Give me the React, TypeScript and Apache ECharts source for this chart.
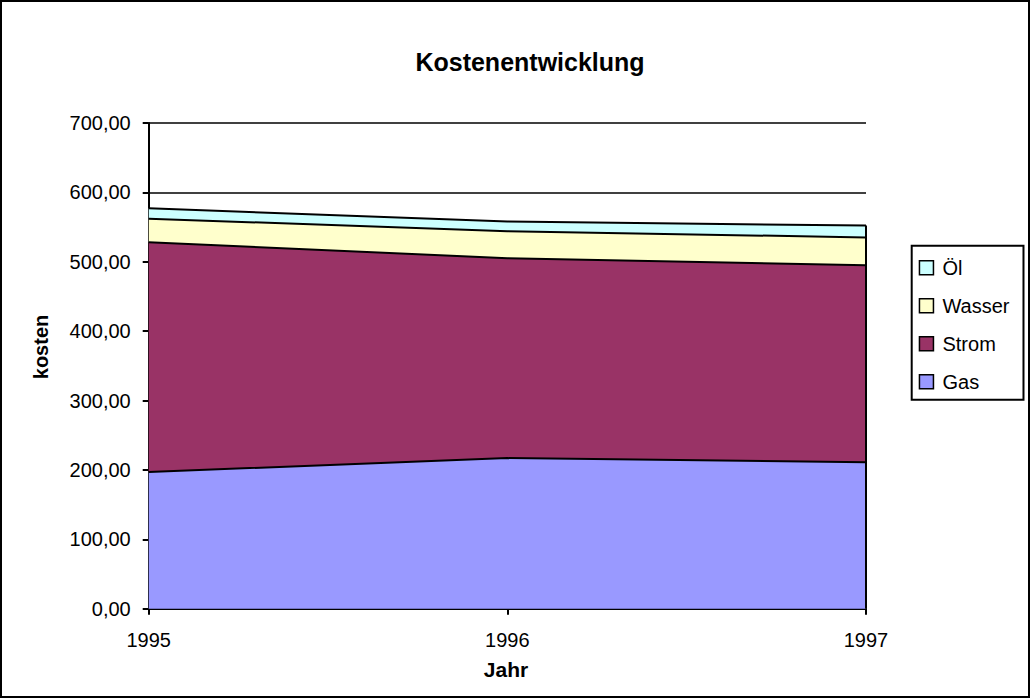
import React, { useEffect, useRef } from "react";
import * as echarts from "echarts";

const years = ["1995", "1996", "1997"];
const gas = [197, 217, 211];
const strom = [331, 288, 284];
const wasser = [34, 39, 40];
const oel = [15, 14, 17];
const legendOrder = ["Öl", "Wasser", "Strom", "Gas"];
const yTicks = { min: 0, max: 700, interval: 100 };

const FONT = "'Liberation Sans', Arial, sans-serif";

export default function App() {
  const ref = useRef<HTMLDivElement>(null);
  useEffect(() => {
    if (!ref.current) return;
    const chart = echarts.init(ref.current, null, { renderer: "svg" });
    const lastIdx = years.length - 1;
    const lastTotal = gas[lastIdx] + strom[lastIdx] + wasser[lastIdx] + oel[lastIdx];
    const mk = (name: string, data: number[], color: string, extra: any = {}) => ({
      name,
      type: "line",
      stack: "total",
      data,
      symbol: "none",
      lineStyle: { color: "#000", width: 2 },
      itemStyle: { color },
      areaStyle: { color, opacity: 1 },
      emphasis: { disabled: true },
      ...extra,
    });
    chart.setOption({
      animation: false,
      textStyle: { fontFamily: FONT },
      title: {
        text: "Kostenentwicklung",
        left: 525,
        top: 44,
        textAlign: "center",
        textStyle: { fontFamily: FONT, fontSize: 25, fontWeight: "bold", color: "#000" },
      },
      grid: { left: 148.7, right: 165, top: 122.9, bottom: 90.3 },
      legend: {
        orient: "vertical",
        left: 911.7,
        top: 245.7,
        data: legendOrder,
        itemWidth: 14,
        itemHeight: 14,
        itemGap: 18,
        icon: "rect",
        padding: [12, 14, 8, 7],
        borderColor: "#000",
        borderWidth: 2,
        itemStyle: { borderColor: "#000", borderWidth: 1.5 },
        textStyle: { fontFamily: FONT, fontSize: 20, color: "#000", lineHeight: 20, padding: [0, 0, 0, 4] },
      },
      xAxis: {
        type: "category",
        data: years,
        boundaryGap: false,
        axisLine: { lineStyle: { color: "#000", width: 2 } },
        axisTick: { show: true, length: 6, alignWithLabel: true, lineStyle: { color: "#000", width: 2 } },
        axisLabel: { fontFamily: FONT, fontSize: 20, color: "#000", margin: 21 },
        splitLine: { show: false },
      },
      yAxis: {
        type: "value",
        min: yTicks.min,
        max: yTicks.max,
        interval: yTicks.interval,
        axisLine: { show: true, lineStyle: { color: "#000", width: 2 } },
        axisTick: { show: true, length: 6, lineStyle: { color: "#000", width: 2 } },
        axisLabel: {
          fontFamily: FONT,
          fontSize: 20,
          color: "#000",
          margin: 18,
          formatter: (v: number) => v.toFixed(2).replace(".", ","),
        },
        splitLine: { show: true, lineStyle: { color: "#000", width: 1.5 } },
      },
      series: [
        mk("Gas", gas, "#9999FF", {
          markLine: {
            silent: true,
            symbol: ["none", "none"],
            label: { show: false },
            lineStyle: { color: "#000", width: 2, type: "solid" },
            data: [[{ coord: [years[lastIdx], 0] }, { coord: [years[lastIdx], lastTotal] }]],
          },
        }),
        mk("Strom", strom, "#993366"),
        mk("Wasser", wasser, "#FFFFCC"),
        mk("Öl", oel, "#CCFFFF"),
      ],
      graphic: [
        {
          type: "rect",
          shape: { x: 1, y: 1, width: 1028, height: 696 },
          style: { fill: "none", stroke: "#000", lineWidth: 2 },
          silent: true,
        },
        {
          type: "text",
          x: 41,
          y: 347,
          rotation: Math.PI / 2,
          style: {
            text: "kosten",
            font: `bold 20px ${FONT}`,
            fill: "#000",
            align: "center",
            verticalAlign: "middle",
          },
        },
        {
          type: "text",
          x: 506,
          y: 669,
          style: {
            text: "Jahr",
            font: `bold 21px ${FONT}`,
            fill: "#000",
            align: "center",
            verticalAlign: "middle",
          },
        },
      ],
    });
    return () => chart.dispose();
  }, []);
  return (
    <div
      ref={ref}
      style={{ position: "fixed", left: 0, top: 0, width: 1031, height: 699, background: "#fff" }}
    />
  );
}
